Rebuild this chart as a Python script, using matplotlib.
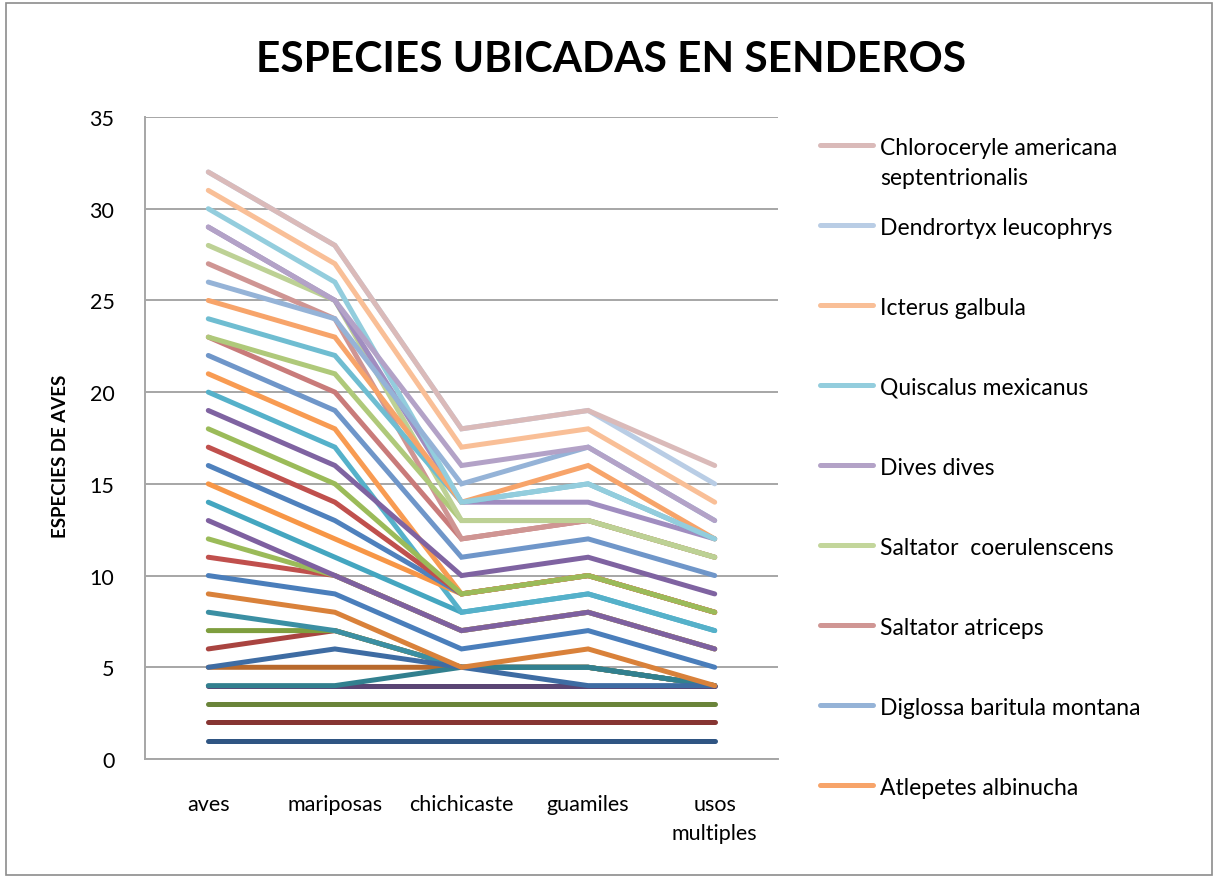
import matplotlib.pyplot as plt
from matplotlib.lines import Line2D
from matplotlib.patches import Rectangle

plt.rcParams['font.family'] = ['Lato', 'DejaVu Sans']

categories = ["aves", "mariposas", "chichicaste", "guamiles", "usos\nmultiples"]

# each line: values at aves, mariposas, chichicaste, guamiles, usos multiples
# listed in drawing order (later ones sit on top)
series_values = [
    [1, 1, 1, 1, 1],
    [2, 2, 2, 2, 2],
    [3, 3, 3, 3, 3],
    [4, 4, 4, 4, 4],
    [5, 5, 5, 5, 4],
    [6, 7, 5, 5, 4],
    [7, 7, 5, 5, 4],
    [8, 7, 5, 5, 4],
    [4, 4, 5, 5, 4],
    [5, 6, 5, 4, 4],
    [9, 8, 5, 6, 4],
    [10, 9, 6, 7, 5],
    [11, 10, 7, 8, 6],
    [12, 10, 7, 8, 6],
    [13, 10, 7, 8, 6],
    [14, 11, 8, 9, 7],
    [20, 17, 8, 9, 7],
    [15, 12, 9, 10, 8],
    [16, 13, 9, 10, 8],
    [17, 14, 9, 10, 8],
    [21, 18, 9, 10, 8],
    [18, 15, 9, 10, 8],
    [19, 16, 10, 11, 9],
    [22, 19, 11, 12, 10],
    [23, 20, 12, 13, 11],
    [27, 24, 12, 13, 11],
    [23, 21, 13, 13, 11],
    [28, 25, 13, 13, 11],
    [29, 25, 14, 14, 12],
    [24, 22, 14, 15, 12],
    [25, 23, 14, 16, 12],
    [30, 26, 14, 15, 12],
    [26, 24, 15, 17, 13],
    [29, 25, 16, 17, 13],
    [31, 27, 17, 18, 14],
    [32, 28, 18, 19, 15],
    [32, 28, 18, 19, 16],
]

series_colors = [
    "#2F5583", "#873532", "#6A843A", "#5A4574", "#B8692C", "#A94440", "#7E9E3E",
    "#3B8FA3", "#32808F", "#3E6CA3", "#D9813A", "#4A7EBB", "#C0504D", "#9BBB59",
    "#7E60A0", "#44A6C0", "#55B1CA", "#F79646", "#4F81BD", "#C0504D", "#F89B52",
    "#9BBB59", "#7F63A1", "#6F96C9", "#C97B7A", "#CF9593", "#AFC97A", "#BDD195",
    "#A08DC0", "#6FBDD1", "#F7A46A", "#93CDDD", "#95B3D7", "#B3A2C7", "#F9BF97",
    "#B9CDE5", "#DABAB9",
]

legend_names = [
    "Chloroceryle americana\nseptentrionalis",
    "Dendrortyx leucophrys",
    "Icterus galbula",
    "Quiscalus mexicanus",
    "Dives dives",
    "Saltator  coerulenscens",
    "Saltator atriceps",
    "Diglossa baritula montana",
    "Atlepetes albinucha",
]
legend_colors = ["#DABAB9", "#B9CDE5", "#F9BF97", "#93CDDD", "#B3A2C7",
                 "#C3D69B", "#D09694", "#95B3D7", "#F7A46A"]

W, H = 1214, 878
fig = plt.figure(figsize=(W / 100, H / 100), dpi=100)
fig.patch.set_facecolor("white")
fig.add_artist(Rectangle((6 / W, 2 / H), 1 - 8 / W, 1 - 6 / H, transform=fig.transFigure,
                         fill=False, edgecolor="#8C8C8C", linewidth=1.2))

ax = fig.add_axes([145 / W, 1 - 760 / H, (778 - 145) / W, (760 - 118) / H])

x = list(range(len(categories)))
for vals, col in zip(series_values, series_colors):
    ax.plot(x, vals, color=col, linewidth=3.6, solid_capstyle="round",
            solid_joinstyle="miter")

ax.set_xlim(-0.5, len(categories) - 0.5)
ax.set_ylim(0, 35)
ax.set_yticks(range(0, 36, 5))
ax.set_xticks(x)
ax.set_xticklabels(categories, fontsize=15.5, linespacing=1.55)
ax.tick_params(axis="y", labelsize=15.5, length=0, pad=22)
ax.tick_params(axis="x", length=0, pad=25)
ax.grid(axis="y", color="#A6A6A6", linewidth=1.4)
ax.set_axisbelow(True)
for s in ["top", "right"]:
    ax.spines[s].set_visible(False)
for s in ["left", "bottom"]:
    ax.spines[s].set_color("#A6A6A6")
    ax.spines[s].set_linewidth(1.4)

fig.text(611 / W, 1 - 60 / H, "ESPECIES UBICADAS EN SENDEROS", ha="center", va="center",
         fontsize=30.5, fontweight="bold")
fig.text(60 / W, 1 - 456 / H, "ESPECIES DE AVES", ha="center", va="center",
         rotation=90, fontsize=13.5, fontweight="bold")

# legend (only the first entries are shown, as in the original)
for i, (name, col) in enumerate(zip(legend_names, legend_colors)):
    yc = 146 if i == 0 else 226 + 80 * (i - 1)
    fig.add_artist(Line2D([820 / W, 873 / W], [1 - yc / H, 1 - yc / H],
                          transform=fig.transFigure, color=col, linewidth=3.6,
                          solid_capstyle="round"))
    fig.text(880 / W, 1 - (yc - 8) / H, name, ha="left", va="top",
             fontsize=16.5, linespacing=1.55)

fig.savefig("out.png", dpi=100)
